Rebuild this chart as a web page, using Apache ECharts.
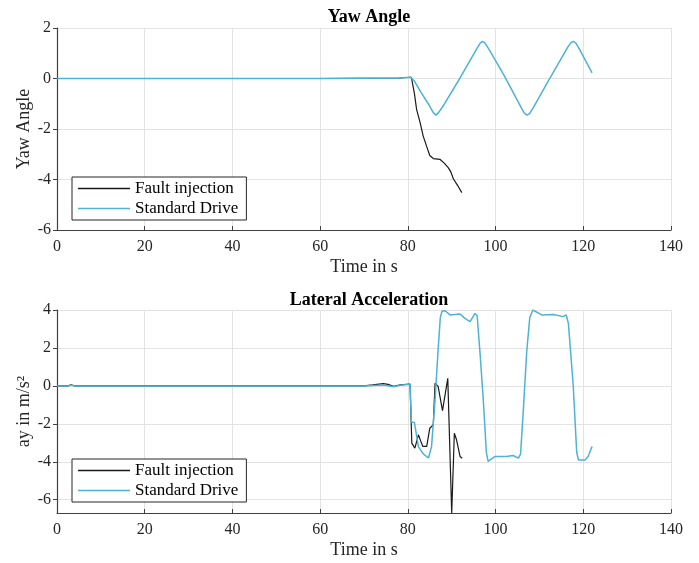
<!DOCTYPE html>
<html>
<head>
<meta charset="utf-8">
<script src="https://cdn.jsdelivr.net/npm/echarts@6/dist/echarts.min.js"></script>
<style>html,body{margin:0;padding:0;background:#fff}#c{width:699px;height:563px}</style>
</head>
<body>
<div id="c"></div>
<script>
var xTicks = [0, 20, 40, 60, 80, 100, 120, 140];
var yawTicks = [-6, -4, -2, 0, 2];
var ayTicks = [-6, -4, -2, 0, 2, 4];
var seriesNames = ['Fault injection', 'Standard Drive'];

var yawFault = [[0,0],[20,0],[40,0],[60,0],[78,0.02],[80.8,0.05],[81.5,-0.6],[82,-1.23],[82.8,-1.75],[83.5,-2.28],[84.3,-2.7],[85,-3.05],[85.8,-3.17],[87.3,-3.2],[88.3,-3.35],[89.2,-3.53],[89.8,-3.7],[90.4,-3.98],[91.4,-4.25],[92.3,-4.52]];
var yawStd = [[0,0],[20,0],[40,0],[60,0],[78,0.02],[80.6,0.05],[81.5,-0.1],[83,-0.55],[85,-1.1],[85.8,-1.35],[86.4,-1.45],[87,-1.35],[88,-1.1],[92,0.05],[95.8,1.2],[96.5,1.4],[97,1.47],[97.6,1.4],[98.5,1.15],[102,0.1],[106,-1.2],[106.6,-1.38],[107.2,-1.45],[107.8,-1.38],[108.6,-1.15],[112,-0.1],[116.5,1.25],[117.2,1.42],[117.7,1.47],[118.3,1.4],[119,1.2],[122,0.22]];

var ayFault = [[0,0],[2.5,0],[3.2,0.05],[4,0],[20,0],[40,0],[60,0],[70,0],[72,0.05],[74.4,0.12],[75.5,0.08],[76.7,-0.02],[78.3,0.05],[80.5,0.1],[80.9,-3.02],[81.6,-3.28],[82.4,-2.58],[83.4,-3.19],[84.3,-3.19],[85,-2.23],[85.8,-2.05],[86.2,0.14],[86.9,-0.03],[87.9,-1.3],[89.1,0.4],[90,-6.7],[90.6,-2.5],[91.1,-2.84],[91.9,-3.72],[92.4,-3.81]];
var ayStd = [[0,0],[2.5,0],[3.2,0.04],[4,0],[20,0],[40,0],[60,0],[70,0],[74.4,0.05],[76.7,-0.04],[78.3,0.03],[80.5,0.08],[80.8,-1.9],[81.2,-2.0],[81.5,-1.93],[82.4,-3.2],[83.5,-3.58],[84.7,-3.8],[85.4,-3.2],[86.2,-0.74],[86.9,1.89],[87.4,3.6],[87.8,3.95],[88.5,3.96],[89.6,3.74],[91.9,3.79],[93,3.56],[94.2,3.39],[95.3,3.82],[95.8,3.7],[96.5,1.6],[97.2,-0.74],[97.9,-3.5],[98.3,-3.98],[99.9,-3.72],[102.5,-3.72],[104,-3.67],[105.2,-3.81],[105.7,-3.6],[106.4,-1.0],[107.1,1.8],[107.8,3.6],[108.5,4.0],[110.5,3.74],[113.2,3.76],[115.4,3.65],[116.1,3.74],[116.6,3.3],[117.7,0.05],[118.5,-3.5],[118.9,-3.9],[120.4,-3.9],[121.1,-3.72],[122,-3.19]];

var FONT = 'Liberation Serif';
var TXT = '#262626';
var BLUE = '#4db3d3';
var BLACK = '#1a1a1a';

function xAxisCfg(gi) {
  return {
    type: 'value', gridIndex: gi, min: xTicks[0], max: xTicks[xTicks.length-1], interval: 20,
    name: 'Time in s', nameLocation: 'middle', nameGap: 28, nameMoveOverlap: false,
    nameTextStyle: {fontFamily: FONT, fontSize: 18, color: TXT},
    axisLine: {show: true, onZero: false, lineStyle: {color: '#404040', width: 1.2}},
    axisTick: {show: true, inside: true, length: 4, lineStyle: {color: '#404040'}},
    axisLabel: {fontFamily: FONT, fontSize: 16, color: TXT, margin: 9},
    splitLine: {show: true, lineStyle: {color: '#e3e3e3', width: 1}}
  };
}

var option = {
  backgroundColor: '#fff',
  animation: false,
  title: [
    {text: 'Yaw Angle', left: 364, top: 3, textAlign: 'center',
     textStyle: {fontFamily: FONT, fontSize: 18, fontWeight: 'bold', color: '#000'}},
    {text: 'Lateral Acceleration', left: 364, top: 286, textAlign: 'center',
     textStyle: {fontFamily: FONT, fontSize: 18, fontWeight: 'bold', color: '#000'}}
  ],
  grid: [
    {left: 57, right: 28, top: 28, height: 202},
    {left: 57, right: 28, top: 310, height: 203}
  ],
  xAxis: [xAxisCfg(0), xAxisCfg(1)],
  yAxis: [
    {type: 'value', gridIndex: 0, min: yawTicks[0], max: yawTicks[yawTicks.length-1], interval: 2,
     name: 'Yaw Angle', nameLocation: 'middle', nameGap: 24, nameMoveOverlap: false,
     nameTextStyle: {fontFamily: FONT, fontSize: 18, color: TXT},
     axisLine: {show: true, lineStyle: {color: '#404040', width: 1.2}},
     axisTick: {show: true, inside: false, length: 4, lineStyle: {color: '#404040'}},
     axisLabel: {fontFamily: FONT, fontSize: 16, color: TXT, margin: 6},
     splitLine: {show: true, lineStyle: {color: '#e3e3e3', width: 1}}},
    {type: 'value', gridIndex: 1, min: -6.7, max: ayTicks[ayTicks.length-1],
     name: 'ay in m/s²', nameLocation: 'middle', nameGap: 24, nameMoveOverlap: false,
     nameTextStyle: {fontFamily: FONT, fontSize: 18, color: TXT},
     axisLine: {show: true, lineStyle: {color: '#404040', width: 1.2}},
     axisTick: {show: true, inside: false, length: 4, customValues: ayTicks, lineStyle: {color: '#404040'}},
     axisLabel: {fontFamily: FONT, fontSize: 16, color: TXT, margin: 6, customValues: ayTicks},
     splitLine: {show: true, lineStyle: {color: '#e3e3e3', width: 1}}}
  ],
  legend: [
    {data: seriesNames, orient: 'vertical', left: 72, top: 177, width: 164,
     icon: 'rect', itemWidth: 52, itemHeight: 1.5, itemGap: 3,
     padding: [3, 8, 3, 6], borderColor: '#262626', borderWidth: 1, backgroundColor: '#fff',
     textStyle: {fontFamily: FONT, fontSize: 17, color: '#000'}, selectedMode: false},
    {data: seriesNames, orient: 'vertical', left: 72, top: 459, width: 164,
     icon: 'rect', itemWidth: 52, itemHeight: 1.5, itemGap: 3,
     padding: [3, 8, 3, 6], borderColor: '#262626', borderWidth: 1, backgroundColor: '#fff',
     textStyle: {fontFamily: FONT, fontSize: 17, color: '#000'}, selectedMode: false}
  ],
  series: [
    {name: seriesNames[0], type: 'line', xAxisIndex: 0, yAxisIndex: 0, data: yawFault, showSymbol: false,
     lineStyle: {color: BLACK, width: 1.2}, itemStyle: {color: BLACK}, z: 2},
    {name: seriesNames[1], type: 'line', xAxisIndex: 0, yAxisIndex: 0, data: yawStd, showSymbol: false,
     lineStyle: {color: BLUE, width: 1.5}, itemStyle: {color: BLUE}, z: 3},
    {name: seriesNames[0], type: 'line', xAxisIndex: 1, yAxisIndex: 1, data: ayFault, showSymbol: false,
     lineStyle: {color: BLACK, width: 1.2}, itemStyle: {color: BLACK}, z: 2},
    {name: seriesNames[1], type: 'line', xAxisIndex: 1, yAxisIndex: 1, data: ayStd, showSymbol: false,
     lineStyle: {color: BLUE, width: 1.5}, itemStyle: {color: BLUE}, z: 3}
  ]
};
var chart = echarts.init(document.getElementById('c'), null, {renderer: 'canvas'});
chart.setOption(option);
</script>
</body>
</html>
